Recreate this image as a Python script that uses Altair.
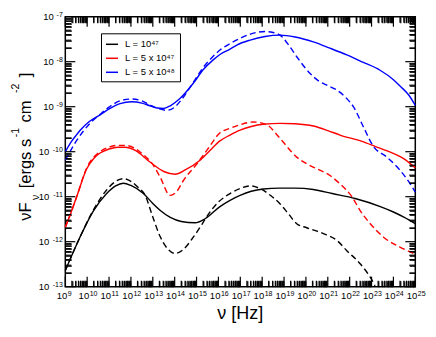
import altair as alt
import pandas as pd

FONT = "Liberation Sans"
W, H = 350, 270
TW = 1.2  # tick line width

# ---------------- data (log10 nu, log10 nuF_nu) ----------------
series_labels = ["L = 10\u2074\u2077", "L = 5 x 10\u2074\u2077", "L = 5 x 10\u2074\u2078"]
series_colors = ["#000000", "#ff0000", "#0000ff"]

black_solid_x = [9.0, 9.67, 10.28, 10.89, 11.3, 11.65, 12.0, 12.57, 13.0, 13.33, 13.8, 14.3, 14.93, 15.39,
                 16.07, 16.53, 16.99, 17.5, 18.05, 18.8, 19.5, 20.34, 21.2, 22.25, 23.4, 24.0, 24.5, 25.0]
black_solid_y = [-12.64, -11.90, -11.32, -10.93, -10.76, -10.70, -10.75, -10.93, -11.15, -11.30, -11.46, -11.55,
                 -11.58, -11.49, -11.22, -11.08, -10.97, -10.88, -10.83, -10.81, -10.81, -10.84, -10.93, -11.04,
                 -11.22, -11.34, -11.46, -11.60]

black_dash_x = [9.0, 9.67, 10.28, 10.89, 11.3, 11.65, 12.0, 12.3, 12.65, 13.0, 13.33, 13.7, 14.02, 14.4, 14.85,
                15.2, 15.39, 16.0, 16.53, 16.99, 17.45, 17.98, 18.4, 18.82, 19.2, 19.58, 20.04, 20.8, 21.41,
                21.87, 22.48, 22.94, 23.16]
black_dash_y = [-12.64, -11.90, -11.30, -10.85, -10.66, -10.60, -10.66, -10.78, -10.97, -11.45, -11.88, -12.17,
                -12.26, -12.17, -11.90, -11.65, -11.50, -11.12, -10.93, -10.82, -10.76, -10.84, -10.98, -11.16,
                -11.38, -11.60, -11.69, -11.82, -11.97, -12.20, -12.49, -12.79, -12.98]

red_solid_x = [9.0, 9.21, 9.52, 9.98, 10.3, 10.59, 11.0, 11.4, 11.73, 12.2, 12.87, 13.5, 14.02, 14.5, 15.16,
               15.6, 16.07, 16.53, 16.99, 17.5, 18.05, 18.82, 19.5, 20.34, 21.0, 21.56, 22.56, 23.16, 23.8,
               24.45, 25.0]
red_solid_y = [-11.68, -11.42, -11.00, -10.38, -10.15, -10.03, -9.94, -9.90, -9.90, -9.97, -10.23, -10.44,
               -10.50, -10.40, -10.19, -9.98, -9.76, -9.63, -9.52, -9.44, -9.39, -9.37, -9.38, -9.43, -9.53,
               -9.63, -9.77, -9.88, -10.0, -10.15, -10.36]

red_dash_x = [9.0, 9.21, 9.52, 9.98, 10.59, 11.0, 11.4, 11.73, 12.2, 12.6, 12.95, 13.33, 13.79, 14.1, 14.4,
              15.0, 15.5, 16.07, 16.53, 16.99, 17.6, 18.21, 18.6, 18.95, 19.58, 20.04, 20.5, 21.1, 21.55,
              22.1, 22.48, 22.94, 23.55, 24.3, 25.0]
red_dash_y = [-11.68, -11.42, -11.00, -10.36, -10.00, -9.90, -9.86, -9.86, -9.93, -10.08, -10.25, -10.56,
              -10.97, -10.88, -10.64, -10.28, -9.95, -9.58, -9.48, -9.40, -9.34, -9.40, -9.58, -9.78, -10.12,
              -10.27, -10.38, -10.53, -10.71, -11.0, -11.31, -11.60, -11.90, -12.12, -12.28]

blue_solid_x = [9.0, 9.3, 9.52, 9.67, 10.1, 10.59, 11.0, 11.5, 12.04, 12.5, 12.87, 13.2, 13.48, 13.8, 14.24,
                14.85, 15.3, 15.76, 16.07, 16.53, 16.84, 17.45, 18.13, 18.82, 19.5, 20.34, 21.1, 21.87, 22.6,
                23.39, 24.0, 24.3, 24.7, 25.0]
blue_solid_y = [-10.0, -9.76, -9.62, -9.53, -9.33, -9.18, -9.05, -8.93, -8.89, -8.92, -8.98, -9.03, -9.04,
                -8.98, -8.82, -8.48, -8.18, -7.96, -7.84, -7.72, -7.63, -7.52, -7.44, -7.41, -7.45, -7.56,
                -7.70, -7.85, -8.01, -8.19, -8.40, -8.54, -8.74, -8.97]

blue_dash_x = [9.0, 9.52, 10.13, 10.59, 11.0, 11.5, 12.04, 12.5, 12.9, 13.3, 13.64, 14.0, 14.3, 14.85, 15.3,
               15.76, 16.07, 16.53, 17.0, 17.5, 18.13, 18.5, 18.82, 19.27, 19.58, 20.19, 20.65, 21.0, 21.41,
               21.87, 22.17, 22.63, 23.08, 23.7, 24.3, 24.76, 25.0]
blue_dash_y = [-10.19, -9.75, -9.37, -9.17, -9.01, -8.87, -8.83, -8.87, -8.97, -9.05, -9.08, -9.01, -8.85,
               -8.46, -8.13, -7.88, -7.74, -7.60, -7.48, -7.38, -7.33, -7.35, -7.41, -7.67, -7.89, -8.26,
               -8.45, -8.53, -8.63, -8.82, -9.0, -9.45, -9.88, -10.12, -10.41, -10.71, -10.90]

x_exps = list(range(9, 26))
y_exps = list(range(-13, -6))


# ---------------- tables ----------------
def table(items):
    rows = []
    for lab, xs, ys in items:
        assert len(xs) == len(ys)
        for a, b in zip(xs, ys):
            rows.append({"series": lab, "nu": 10.0 ** a, "F": 10.0 ** b})
    return pd.DataFrame(rows)


df_solid = table([(series_labels[0], black_solid_x, black_solid_y),
                  (series_labels[1], red_solid_x, red_solid_y),
                  (series_labels[2], blue_solid_x, blue_solid_y)])
df_dash = table([(series_labels[0], black_dash_x, black_dash_y),
                 (series_labels[1], red_dash_x, red_dash_y),
                 (series_labels[2], blue_dash_x, blue_dash_y)])

xl = pd.DataFrame({"v": [10.0 ** e for e in x_exps], "e": [str(e) for e in x_exps]})
yl = pd.DataFrame({"v": [10.0 ** e for e in y_exps], "e": [str(e) for e in y_exps],
                   "two": [abs(e) >= 10 for e in y_exps]})
yl1 = yl[~yl["two"]]
yl2 = yl[yl["two"]]

x_major_vals = [10.0 ** e for e in x_exps]
y_major_vals = [10.0 ** e for e in y_exps]
x_minor_vals = [m * 10.0 ** e for e in x_exps[:-1] for m in range(2, 10)]
y_minor_vals = [m * 10.0 ** e for e in y_exps[:-1] for m in range(2, 10)]
x_major = pd.DataFrame({"tk": x_major_vals})
y_major = pd.DataFrame({"tk": y_major_vals})
x_minor = pd.DataFrame({"tk": x_minor_vals})
y_minor = pd.DataFrame({"tk": y_minor_vals})

xscale = alt.Scale(type="log", domain=[1e9, 1e25], nice=False)
yscale = alt.Scale(type="log", domain=[1e-13, 1e-7], nice=False)
cscale = alt.Scale(domain=series_labels, range=series_colors)


def tick_axis(orient, offset, values, size):
    return alt.Axis(orient=orient, offset=offset, values=values, labels=False, domain=False,
                    grid=False, ticks=True, tickColor="#000000", tickWidth=TW, tickSize=size)


# inward minor ticks: axes pushed onto the opposite edge so their ticks point into the plot
solid = alt.Chart(df_solid).mark_line(strokeWidth=1.4, interpolate="monotone").encode(
    x=alt.X("nu:Q", scale=xscale, axis=tick_axis("top", -H, x_minor_vals, 6), title=None),
    y=alt.Y("F:Q", scale=yscale, axis=tick_axis("right", -W, y_minor_vals, 6), title=None),
    color=alt.Color("series:N", scale=cscale,
                    legend=alt.Legend(title=None, orient="none", legendX=35.7, legendY=16.6,
                                      symbolType="stroke", symbolSize=144, symbolStrokeWidth=1.5,
                                      labelFont=FONT, labelFontSize=9.5, labelColor="black",
                                      padding=4, strokeColor="black", fillColor="white",
                                      rowPadding=2, labelOffset=6)),
)
ghost = alt.Chart(df_solid).mark_point(opacity=0).encode(
    x=alt.X("nu:Q", scale=xscale, axis=tick_axis("bottom", -H, x_minor_vals, 6), title=None),
    y=alt.Y("F:Q", scale=yscale, axis=tick_axis("left", -W, y_minor_vals, 6), title=None),
)
dashed = alt.Chart(df_dash).mark_line(strokeWidth=1.4, interpolate="monotone", strokeDash=[6, 3.5]).encode(
    x=alt.X("nu:Q", scale=xscale, axis=None),
    y=alt.Y("F:Q", scale=yscale, axis=None),
    color=alt.Color("series:N", scale=cscale, legend=None),
)


# tick rules placed through the shared log scales (majors longer)
def xticks(frame, y0, y1):
    return alt.Chart(frame).mark_rule(stroke="#000000", strokeWidth=TW).encode(
        x=alt.X("tk:Q", scale=xscale, axis=None), y=alt.value(y0), y2=alt.value(y1))


def yticks(frame, x0, x1):
    return alt.Chart(frame).mark_rule(stroke="#000000", strokeWidth=TW).encode(
        y=alt.Y("tk:Q", scale=yscale, axis=None), x=alt.value(x0), x2=alt.value(x1))


tick_layers = [
    xticks(x_major, H, H - 10), xticks(x_minor, H, H - 6),
    xticks(x_major, 0, 10), xticks(x_minor, 0, 6),
    yticks(y_major, 0, 10), yticks(y_minor, 0, 6),
    yticks(y_major, W, W - 10), yticks(y_minor, W, W - 6),
]

# x tick labels: "10" + superscript exponent
x10 = alt.Chart(xl).mark_text(text="10", align="right", baseline="alphabetic", dx=2, fontSize=9.5,
                              font=FONT, color="black").encode(
    x=alt.X("v:Q", scale=xscale, axis=None), y=alt.value(282.6))
xexp = alt.Chart(xl).mark_text(align="left", baseline="alphabetic", dx=2.5, fontSize=7,
                               font=FONT, color="black").encode(
    x=alt.X("v:Q", scale=xscale, axis=None), y=alt.value(279.2), text="e:N")

# y tick labels
y10a = alt.Chart(yl1).mark_text(text="10", align="right", baseline="alphabetic", dy=3.5, fontSize=9.5,
                                font=FONT, color="black").encode(
    y=alt.Y("v:Q", scale=yscale, axis=None), x=alt.value(-11.5))
y10b = alt.Chart(yl2).mark_text(text="10", align="right", baseline="alphabetic", dy=3.5, fontSize=9.5,
                                font=FONT, color="black").encode(
    y=alt.Y("v:Q", scale=yscale, axis=None), x=alt.value(-16))
yexp = alt.Chart(yl).mark_text(align="right", baseline="alphabetic", dy=0.2, fontSize=7,
                               font=FONT, color="black").encode(
    y=alt.Y("v:Q", scale=yscale, axis=None), x=alt.value(-2.5), text="e:N")


def txt(s, x, y, size, angle=0):
    return alt.Chart(pd.DataFrame({"s": [s]})).mark_text(
        align="center", baseline="alphabetic", fontSize=size, font=FONT, angle=angle, color="black"
    ).encode(x=alt.value(x), y=alt.value(y), text="s:N")


xtitle = txt("\u03bd [Hz]", 175, 302.3, 18)
ytitle = [
    txt("\u03bdF", -34.8, 194.8, 16.5, 270),
    txt("\u03bd", -26.5, 180.8, 10.5, 270),
    txt("[ergs", -34.8, 153.3, 16.5, 270),
    txt("s", -34.8, 126.3, 16.5, 270),
    txt("-1", -46.8, 115.8, 10.5, 270),
    txt("cm", -34.8, 94.8, 16.5, 270),
    txt("-2", -46.8, 71.6, 10.5, 270),
    txt("]", -34.8, 58.3, 16.5, 270),
]

chart = alt.layer(solid, ghost, dashed, *tick_layers, x10, xexp, y10a, y10b, yexp, xtitle,
                  *ytitle).resolve_axis(
    x="independent", y="independent"
).properties(
    width=W, height=H,
    autosize=alt.AutoSizeParams(type="none"),
    padding={"left": 57.3, "top": 8.7, "right": 12, "bottom": 45},
    background="white",
).configure_view(stroke="black", strokeWidth=1.5)

chart.save("out.html", embed_options={"renderer": "svg", "actions": False})
